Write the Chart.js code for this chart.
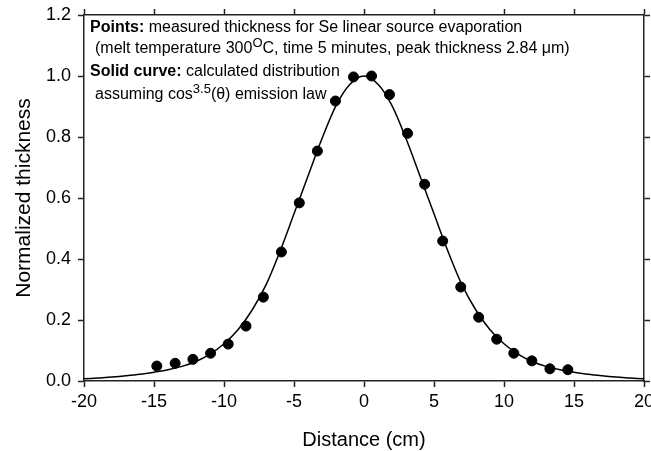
<!DOCTYPE html>
<html>
<head>
<meta charset="utf-8">
<script src="https://cdn.jsdelivr.net/npm/chart.js@4.4.1/dist/chart.umd.min.js"></script>
<style>
  body { margin: 0; background: #fff; }
  #wrap { width: 651px; height: 451px; }
</style>
</head>
<body>
<div id="wrap"><canvas id="thickness"></canvas></div>
<script>
// measured points
const distance = [-14.80, -13.49, -12.22, -10.96, -9.70, -8.43, -7.19, -5.90, -4.62, -3.33, -2.04, -0.75,
                  0.54, 1.82, 3.11, 4.33, 5.62, 6.91, 8.19, 9.48, 10.70, 11.99, 13.28, 14.56];
const thickness = [0.049, 0.058, 0.071, 0.091, 0.121, 0.180, 0.275, 0.423, 0.584, 0.754, 0.918, 0.997,
                   1.000, 0.939, 0.812, 0.645, 0.459, 0.308, 0.209, 0.137, 0.091, 0.066, 0.040, 0.037];

// calculated curve
const curveX = [-20, -19, -18, -17, -16, -15, -14, -13, -12, -11, -10, -9, -8, -7, -6, -5, -4, -3, -2, -1, 0,
                1, 2, 3, 4, 5, 6, 7, 8, 9, 10, 11, 12, 13, 14, 15, 16, 17, 18, 19, 20];
const curveY = [0.007, 0.010, 0.013, 0.017, 0.022, 0.029, 0.037, 0.048, 0.064, 0.088, 0.122, 0.168, 0.232,
                0.315, 0.425, 0.548, 0.672, 0.795, 0.903, 0.973, 1.000,
                0.973, 0.903, 0.795, 0.672, 0.548, 0.425, 0.315, 0.232, 0.168, 0.122, 0.088, 0.064, 0.048,
                0.037, 0.029, 0.022, 0.017, 0.013, 0.010, 0.007];

const xRange = [-20, 20];
const yRange = [0, 1.2];
const xStep = 5;
const yStep = 0.2;

const FONT = '"Liberation Sans", Arial, sans-serif';
const AXIS = '#222';

// annotation text block in the upper left of the plot
const notes = {
  id: 'notes',
  afterDraw(chart) {
    const c = chart.ctx;
    const L = chart.chartArea.left;
    c.save();
    c.fillStyle = '#000';
    c.textBaseline = 'alphabetic';
    function run(parts, x, y) {
      parts.forEach(p => {
        c.font = (p.b ? 'bold ' : '') + (p.s ? '13px ' : '16px ') + FONT;
        c.fillText(p.t, x, y - (p.s ? 6 : 0));
        x += c.measureText(p.t).width;
      });
    }
    run([{t: 'Points:', b: true}, {t: ' measured thickness for Se linear source evaporation'}], L + 6, 31.5);
    run([{t: '(melt temperature 300'}, {t: 'O', s: true}, {t: 'C, time 5 minutes, peak thickness 2.84 \u03bcm)'}], L + 11, 53);
    run([{t: 'Solid curve:', b: true}, {t: ' calculated distribution'}], L + 6, 76);
    run([{t: 'assuming cos'}, {t: '3.5', s: true}, {t: '(\u03b8) emission law'}], L + 11, 99);
    c.restore();
  }
};

const frameAxis = (pos, min, max, step) => ({
  type: 'linear', position: pos, min: min, max: max,
  ticks: { display: false, stepSize: step },
  grid: { drawOnChartArea: false, tickLength: 6, tickColor: AXIS, tickWidth: 1.5 },
  border: { color: AXIS, width: 1.5 }
});

new Chart(document.getElementById('thickness'), {
  type: 'scatter',
  data: {
    datasets: [{
      label: 'measured',
      data: distance.map((d, i) => ({x: d, y: thickness[i]})),
      pointRadius: 5,
      pointBackgroundColor: '#000',
      pointBorderColor: '#000',
      showLine: false
    }, {
      label: 'calculated',
      data: curveX.map((d, i) => ({x: d, y: curveY[i]})),
      showLine: true,
      pointRadius: 0,
      borderColor: '#000',
      borderWidth: 1.5,
      cubicInterpolationMode: 'monotone'
    }]
  },
  options: {
    responsive: true,
    maintainAspectRatio: false,
    animation: false,
    layout: { padding: 0 },
    plugins: { legend: { display: false }, tooltip: { enabled: false } },
    scales: {
      x: {
        type: 'linear', position: 'bottom', min: xRange[0], max: xRange[1],
        ticks: { stepSize: xStep, color: '#000', padding: 4, font: { family: FONT, size: 18 } },
        grid: { drawOnChartArea: false, tickLength: 6, tickColor: AXIS, tickWidth: 1.5 },
        border: { color: AXIS, width: 1.5 },
        title: { display: true, text: 'Distance (cm)', color: '#000',
                 font: { family: FONT, size: 20, lineHeight: 1 }, padding: { top: 0, bottom: 1 } },
        afterFit: s => { s.height = 70; s.paddingLeft = 0; s.paddingRight = 0; }
      },
      y: {
        type: 'linear', position: 'left', min: yRange[0], max: yRange[1],
        ticks: { stepSize: yStep, color: '#000', padding: 7, font: { family: FONT, size: 18 },
                 callback: v => v.toFixed(1) },
        grid: { drawOnChartArea: false, tickLength: 6, tickColor: AXIS, tickWidth: 1.5 },
        border: { color: AXIS, width: 1.5 },
        title: { display: true, text: 'Normalized thickness', color: '#000',
                 font: { family: FONT, size: 21, lineHeight: 1 }, padding: { top: 14, bottom: 0 } },
        afterFit: s => { s.width = 84; s.paddingTop = 0; s.paddingBottom = 0; }
      },
      xTop: Object.assign(frameAxis('top', xRange[0], xRange[1], xStep),
                          { afterFit: s => { s.height = 15; s.paddingLeft = 0; s.paddingRight = 0; } }),
      yRight: Object.assign(frameAxis('right', yRange[0], yRange[1], yStep),
                            { afterFit: s => { s.width = 7; s.paddingTop = 0; s.paddingBottom = 0; } })
    }
  },
  plugins: [notes]
});
</script>
</body>
</html>
